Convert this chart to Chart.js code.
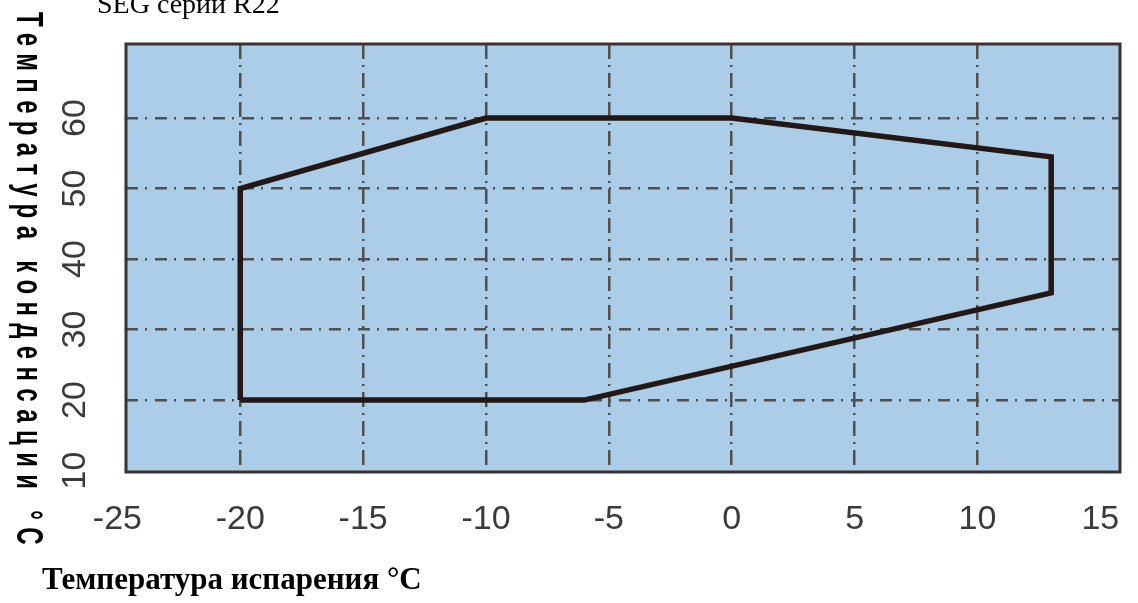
<!DOCTYPE html>
<html>
<head>
<meta charset="utf-8">
<script src="https://cdn.jsdelivr.net/npm/chart.js@4.4.0/dist/chart.umd.min.js"></script>
<style>
  html, body { margin: 0; padding: 0; background: #fff; }
  #wrap { width: 1138px; height: 603px; }
</style>
</head>
<body>
<div id="wrap"><canvas id="envelope" width="1138" height="603"></canvas></div>
<script>
// outline of the operating envelope, corners
var evapTemp = [-20, -20, -10, 0, 13.0, 13.0, -6, -20];
var condTemp = [20, 50, 60, 60, 54.5, 35.2, 20, 20];

var xTicks = [-25, -20, -15, -10, -5, 0, 5, 10, 15];
var yTicks = [10, 20, 30, 40, 50, 60];

var chartTitle = 'SEG серии R22';
var xTitle = 'Температура испарения °C';
var yTitle = 'Температура конденсации °С';

var points = evapTemp.map(function(x, i) {
    return { x: x, y: condTemp[i] };
});

function hideEdge(list) {
    return function(c) {
        if (c.tick && list.indexOf(c.tick.value) !== -1) return 'rgba(0,0,0,0)';
        return '#4f4f4f';
    };
}

// plot background, frame and the hand placed titles
var frameAndTitles = {
    id: 'frameAndTitles',
    beforeDraw: function(chart) {
        var a = chart.chartArea, ctx = chart.ctx;
        ctx.save();
        ctx.fillStyle = '#abcde8';
        ctx.fillRect(a.left, a.top, a.right - a.left, a.bottom - a.top);
        ctx.restore();
    },
    afterDraw: function(chart) {
        var a = chart.chartArea, ctx = chart.ctx;
        ctx.save();
        ctx.strokeStyle = '#3a3231';
        ctx.lineWidth = 3;
        ctx.strokeRect(a.left, a.top, a.right - a.left, a.bottom - a.top);

        ctx.fillStyle = '#000';
        ctx.textBaseline = 'alphabetic';
        ctx.textAlign = 'left';
        ctx.font = '28px "Liberation Serif"';
        ctx.fillText(chartTitle, 97, 13);

        ctx.font = 'bold 31px "Liberation Serif"';
        ctx.fillText(xTitle, 42, 589);

        // vertical title, spread out, reads top to bottom, glyphs a bit tall
        ctx.font = 'bold 24px "Liberation Sans"';
        var plain = ctx.measureText(yTitle).width;
        var n = Array.from(yTitle).length;
        ctx.letterSpacing = ((540 - plain) / n) + 'px';
        ctx.translate(17, 12);
        ctx.rotate(Math.PI / 2);
        ctx.scale(1, 1.55);
        ctx.fillText(yTitle, 0, 0);
        ctx.restore();
    }
};

new Chart(document.getElementById('envelope'), {
    type: 'scatter',
    data: {
        datasets: [{
            data: points,
            showLine: true,
            fill: false,
            borderColor: '#231815',
            borderWidth: 5.5,
            borderJoinStyle: 'miter',
            pointRadius: 0,
            tension: 0
        }]
    },
    options: {
        responsive: false,
        animation: false,
        layout: { padding: { left: 0, top: 44, right: 18, bottom: 0 } },
        plugins: {
            legend: { display: false },
            tooltip: { enabled: false },
            title: { display: false }
        },
        scales: {
            x: {
                type: 'linear',
                min: -24.65,
                max: 15.8,
                afterBuildTicks: function(s) {
                    s.ticks = xTicks.map(function(v) { return { value: v }; });
                },
                afterFit: function(s) {
                    s.height = 131;
                    s.paddingLeft = 0;
                    s.paddingRight = 0;
                },
                grid: { color: hideEdge([-25, 15]), lineWidth: 2.5, drawTicks: false },
                border: { display: false, dash: [15, 6, 2, 6] },
                ticks: {
                    autoSkip: false,
                    minRotation: 0,
                    maxRotation: 0,
                    padding: 27,
                    color: '#3a3a3a',
                    font: { family: 'Liberation Sans', size: 34 }
                }
            },
            y: {
                type: 'linear',
                min: 9.8,
                max: 70.5,
                afterBuildTicks: function(s) {
                    s.ticks = yTicks.map(function(v) { return { value: v }; });
                },
                afterFit: function(s) {
                    s.width = 126;
                    s.paddingTop = 0;
                    s.paddingBottom = 0;
                },
                grid: { color: hideEdge([10]), lineWidth: 2.5, drawTicks: false },
                border: { display: false, dash: [12, 7, 2, 8] },
                ticks: {
                    minRotation: 90,
                    maxRotation: 90,
                    crossAlign: 'center',
                    padding: 31,
                    color: '#3a3a3a',
                    font: { family: 'Liberation Sans', size: 34 }
                }
            }
        }
    },
    plugins: [frameAndTitles]
});
</script>
</body>
</html>
